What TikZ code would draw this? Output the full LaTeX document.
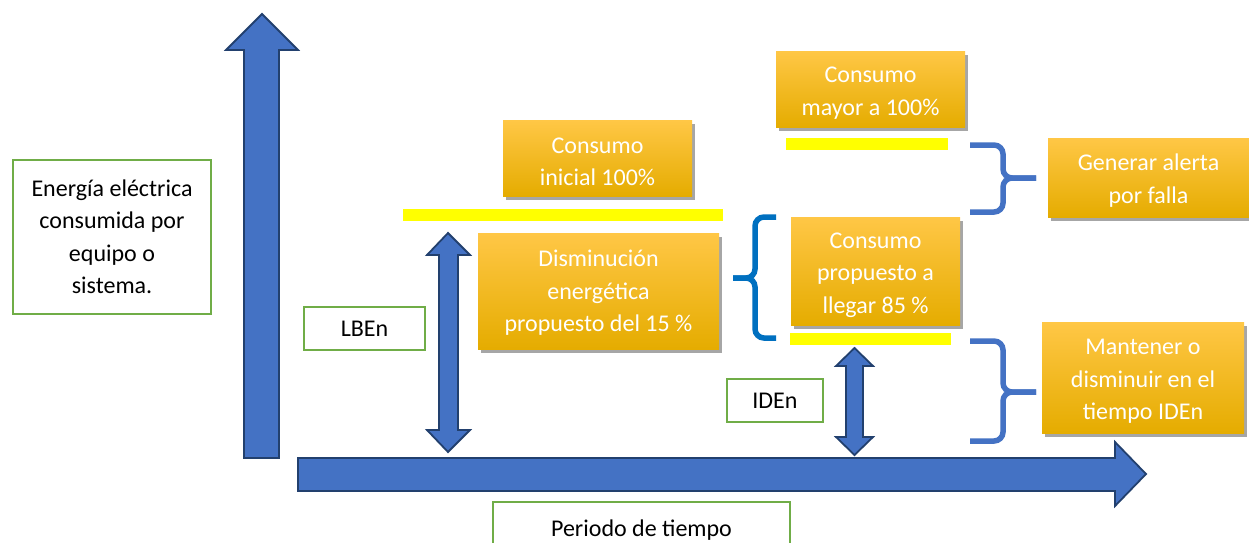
\documentclass[tikz,border=0pt]{standalone}
\usepackage{fontspec}
\setmainfont{Carlito}
\usetikzlibrary{shadows}
\definecolor{arrfill}{HTML}{4472C4}
\definecolor{arrline}{HTML}{22406E}
\definecolor{gtop}{HTML}{FFC746}
\definecolor{gmid}{HTML}{FFC000}
\definecolor{gbot}{HTML}{E5AC00}
\definecolor{grn}{HTML}{70AD47}
\definecolor{brL}{HTML}{0070C0}
\definecolor{brR}{HTML}{4472C4}
\definecolor{yel}{HTML}{FFFF00}
\tikzset{
  bigarrow/.style={fill=arrfill, draw=arrline, line width=1.8pt, line join=miter},
  obox/.style={rectangle, inner sep=0pt,
    top color=gtop, middle color=gmid, bottom color=gbot,
    drop shadow={shadow xshift=3pt, shadow yshift=-4pt, opacity=0.35, fill=black}},
  otext/.style={align=center, text=white, inner sep=0pt,
    font=\fontsize{24}{32.5}\selectfont},
  gbox/.style={rectangle, draw=grn, line width=1.5pt, align=center, text=black,
    inner sep=2pt, font=\fontsize{24}{32.5}\selectfont},
  ybar/.style={fill=yel, draw=none},
  bracel/.style={draw=brL, line width=5.5pt, rounded corners=9pt, line cap=butt},
  bracer/.style={draw=brR, line width=5.5pt, rounded corners=9pt, line cap=butt},
}
\begin{document}
\begin{tikzpicture}[x=1pt,y=-1pt]
\useasboundingbox (0,0) rectangle (1249,542);
\fill[white] (0,0) rectangle (1249,542);

% axes
\draw[bigarrow] (244,458) -- (244,50) -- (226,50) -- (262,14) -- (298,50) -- (279,50) -- (279,458) -- cycle;
\draw[bigarrow] (298,458) -- (1115,458) -- (1115,442) -- (1146,474) -- (1115,506) -- (1115,491) -- (298,491) -- cycle;

% double arrows
\draw[bigarrow] (448,233) -- (470,255) -- (458,255) -- (458,430) -- (470,430) -- (448,452) -- (427,430) -- (439,430) -- (439,255) -- (427,255) -- cycle;
\draw[bigarrow] (854.5,348) -- (873,366) -- (863,366) -- (863,437) -- (873,437) -- (854.5,455) -- (836,437) -- (846,437) -- (846,366) -- (836,366) -- cycle;

% yellow bars
\fill[ybar] (403,209) rectangle (723,221);
\fill[ybar] (786,138) rectangle (948,150);
\fill[ybar] (790,333) rectangle (951,345);

% braces
\draw[bracel] (776,217) -- (755,217) -- (755,278) -- (733,278);
\draw[bracel] (733,278) -- (755,278) -- (755,338) -- (776,338);
\draw[bracer] (970,145) -- (1003,145) -- (1003,178) -- (1036,178);
\draw[bracer] (1036,178) -- (1003,178) -- (1003,212) -- (970,212);
\draw[bracer] (970,341) -- (1003,341) -- (1003,392) -- (1036,392);
\draw[bracer] (1036,392) -- (1003,392) -- (1003,441) -- (970,441);

% orange boxes
\node[obox, minimum width=189pt, minimum height=76pt] (b1) at (597.5,158) {};
\node[otext] (t1) at ([yshift=-4pt]b1.center) {Consumo\\inicial 100\%};
\node[obox, minimum width=241pt, minimum height=116pt] (b2) at (598.5,291) {};
\node[otext] (t2) at ([yshift=-2pt]b2.center) {Disminución\\energética\\propuesto del 15 \%};
\node[obox, minimum width=189pt, minimum height=76pt] (b3) at (870.5,89) {};
\node[otext] (t3) at ([yshift=-4pt]b3.center) {Consumo\\mayor a 100\%};
\node[obox, minimum width=169pt, minimum height=108pt] (b4) at (875.5,271) {};
\node[otext] (t4) at ([yshift=-4pt]b4.center) {Consumo\\propuesto a\\llegar 85 \%};
\node[obox, minimum width=201pt, minimum height=79pt] (b5) at (1148.5,177.5) {};
\node[otext] (t5) at ([yshift=-3pt]b5.center) {Generar alerta\\por falla};
\node[obox, minimum width=202pt, minimum height=111pt] (b6) at (1143,377.5) {};
\node[otext] (t6) at ([yshift=-4pt]b6.center) {Mantener o\\disminuir en el\\tiempo IDEn};

% green boxes
\node[gbox, minimum width=198pt, minimum height=154pt] (g1) at (112,237) {Energía eléctrica\\consumida por\\equipo o\\sistema.};
\node[gbox, minimum width=121pt, minimum height=43pt] (g2) at (364.5,328.5) {LBEn};
\node[gbox, minimum width=96pt, minimum height=43pt] (g3) at (775,400.5) {IDEn};
\node[gbox, minimum width=297pt, minimum height=56pt] (g4) at (641.5,530) {Periodo de tiempo};
\end{tikzpicture}
\end{document}
